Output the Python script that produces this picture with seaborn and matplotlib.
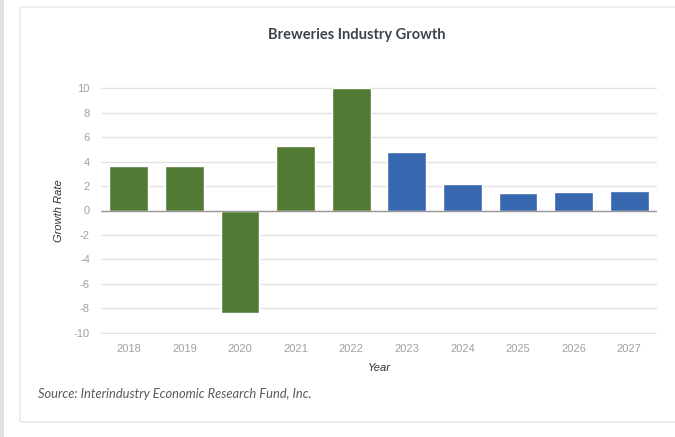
import matplotlib
matplotlib.use("Agg")
import matplotlib.pyplot as plt
import seaborn as sns
import pandas as pd
from matplotlib.patches import Rectangle, FancyBboxPatch

years = ["2018", "2019", "2020", "2021", "2022", "2023", "2024", "2025", "2026", "2027"]
growth = [3.6, 3.6, -8.4, 5.3, 10.0, 4.8, 2.15, 1.4, 1.5, 1.6]
kind = ["Actual", "Actual", "Actual", "Actual", "Actual",
        "Forecast", "Forecast", "Forecast", "Forecast", "Forecast"]
yticks = [-10, -8, -6, -4, -2, 0, 2, 4, 6, 8, 10]
colors = {"Actual": "#517b35", "Forecast": "#3767af"}

df = pd.DataFrame({"Year": years, "Growth": growth, "Kind": kind})

sns.set_theme(style="white")
plt.rcParams['font.family'] = ['Liberation Sans', 'DejaVu Sans']

fig = plt.figure(figsize=(6.75, 4.37), dpi=100)
W, H = 675, 437

# page background strip and card
fig.patches.append(Rectangle((0, 0), 4 / W, 1, transform=fig.transFigure,
                             facecolor="#e3e3dc", edgecolor="none", zorder=-2))
fig.patches.append(FancyBboxPatch((20 / W, (H - 422) / H), 670 / W, 415 / H,
                                  boxstyle="round,pad=0,rounding_size=0.004",
                                  transform=fig.transFigure, facecolor="white",
                                  edgecolor="#e6e6e6", linewidth=1.0, zorder=-1))

ax = fig.add_axes([101 / W, (H - 334) / H, (657 - 101) / W, (334 - 87) / H])
ax.set_zorder(2)
ax.set_facecolor("none")

sns.barplot(data=df, x="Year", y="Growth", hue="Kind", palette=colors,
            dodge=False, width=0.7, ax=ax, legend=False, saturation=1)

ax.set_ylim(-10.1, 10.1)
ax.set_xlim(-0.5, len(years) - 0.5)
ax.set_yticks(yticks)
ax.set_yticklabels([str(v) for v in yticks])
ax.yaxis.grid(True, color="#e2e2e2", linewidth=1.0)
ax.set_axisbelow(True)
ax.axhline(0, color="#9a9a9a", linewidth=1.0, zorder=1)
for s in ax.spines.values():
    s.set_visible(False)
ax.tick_params(axis="both", length=0, colors="#a0a0a0", labelsize=8)
ax.tick_params(axis="y", pad=8)
ax.tick_params(axis="x", pad=7)

ax.set_xlabel("Year", fontsize=8, style="italic", color="#333333", labelpad=7)
ax.set_ylabel("Growth Rate", fontsize=8, style="italic", color="#333333", labelpad=7)

fig.text(357 / W, 1 - 35 / H, "Breweries Industry Growth", ha="center", va="center",
         fontsize=10.5, fontweight="bold", color="#3b4550", family=["Lato", "DejaVu Sans"])
fig.text(38 / W, 1 - 394 / H, "Source: Interindustry Economic Research Fund, Inc.",
         ha="left", va="center", fontsize=9.3, style="italic", color="#555a60",
         family=["Lato", "DejaVu Sans"])

fig.savefig("out.png", dpi=100)
